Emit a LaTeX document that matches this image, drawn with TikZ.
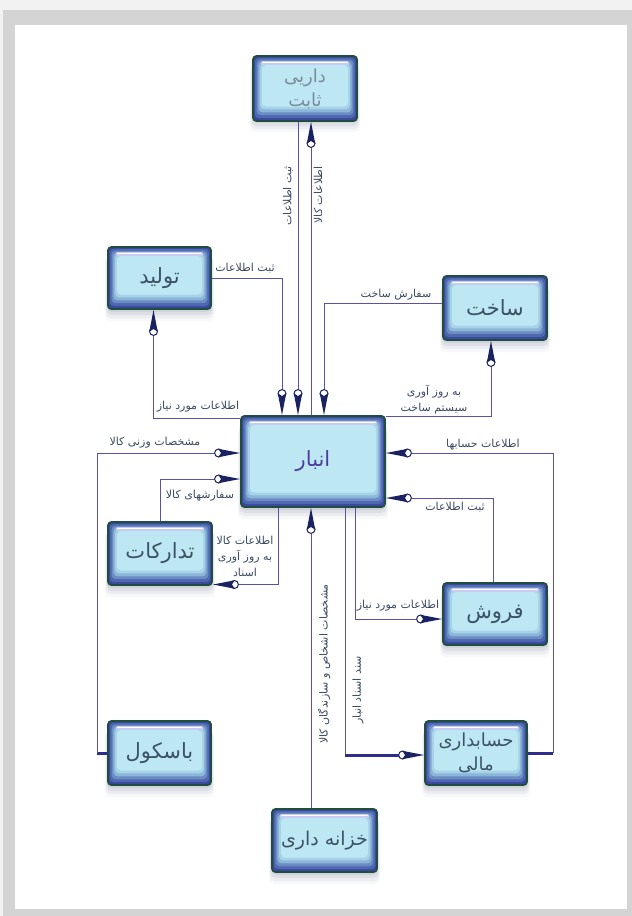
\documentclass[tikz,border=0pt]{standalone}
\usepackage{fontspec}
\TeXXeTstate=1
\newfontfamily\pfont[Script=Arabic]{DejaVu Sans}
\usetikzlibrary{arrows.meta}
\definecolor{bgout}{HTML}{F2F2F2}
\definecolor{bggray}{HTML}{D4D4D4}
\definecolor{boxgreen}{HTML}{1F4F3C}
\definecolor{bA}{HTML}{3A48A0}
\definecolor{bB}{HTML}{4F66B0}
\definecolor{bC}{HTML}{6B8CC3}
\definecolor{bD}{HTML}{8CB6D8}
\definecolor{bE}{HTML}{A6D3E8}
\definecolor{bF}{HTML}{BCE7F3}
\definecolor{hlA}{HTML}{C9CCF2}
\definecolor{linec}{HTML}{5A50AE}
\definecolor{thickc}{HTML}{2E2C8C}
\definecolor{arrc}{HTML}{1B2262}
\definecolor{lblc}{HTML}{3B4A63}
\definecolor{txtc}{HTML}{3C5266}
\definecolor{txtstore}{HTML}{4A3F9C}
\definecolor{txtfixed}{HTML}{7A8C9C}
\definecolor{shadowc}{HTML}{7E8AA2}
\newcommand\boxshadow[4]{%
  \foreach \kk/\op in {3/0.16,6/0.12,9/0.09,12/0.06}{%
    \fill[shadowc,opacity=\op,rounded corners=5pt] (#1-#3/2-\kk/4,#2-#4/2+\kk) rectangle (#1+#3/2+\kk/4,#2+#4/2+\kk);
  }%
}
\begin{document}
\begin{tikzpicture}[x=1pt,y=-1pt,
  conn/.style={draw=linec,line width=0.9pt},
  thk/.style={draw=thickc,line width=3pt},
  arr/.style={-{Circle[open,fill=white,color=arrc,length=9pt,width=9pt,line width=1pt,sep=-5pt]Stealth[color=arrc,length=22pt,width=8.5pt,inset=3pt,line width=0pt]}},
  lbl/.style={text=lblc,font=\pfont\fontsize{11}{16}\selectfont,inner sep=1pt},
  fancy/.style={rectangle,rounded corners=3.5pt,draw=boxgreen,line width=1.8pt,fill=bA,inner sep=0pt,
    text=txtc,font=\pfont\fontsize{21}{25}\selectfont,align=center,
    path picture={
      \foreach \ii/\cc in {1.8/bB,3.6/bC,5.4/bD,7.2/bE,9/bF}{
        \fill[\cc,rounded corners=4pt] ([xshift=\ii*1pt,yshift=-\ii*1pt]path picture bounding box.north west) rectangle ([xshift=-\ii*1pt,yshift=\ii*1.6pt]path picture bounding box.south east);
      }
      \draw[hlA,line width=4pt,line cap=round] ([xshift=10pt,yshift=-6.5pt]path picture bounding box.north west) -- ([xshift=-10pt,yshift=-6.5pt]path picture bounding box.north east);
      \draw[white,line width=1.8pt,line cap=round] ([xshift=10pt,yshift=-6.5pt]path picture bounding box.north west) -- ([xshift=-10pt,yshift=-6.5pt]path picture bounding box.north east);
    }}
]
\useasboundingbox (0,0) rectangle (632,916);
\fill[bgout] (0,0) rectangle (632,916);
\fill[bggray] (3,10) rectangle (632,916);
\fill[white] (15,25) rectangle (627,909);

% shadows
\boxshadow{305}{87.5}{104}{65}
\boxshadow{159.5}{278}{103}{62}
\boxshadow{495}{308}{104}{64}
\boxshadow{313}{461.5}{144}{91}
\boxshadow{160}{553.5}{104}{63}
\boxshadow{495}{614}{104}{62}
\boxshadow{476}{753}{102}{64}
\boxshadow{159.5}{753}{103}{64}
\boxshadow{324.5}{840.5}{105}{63}

% boxes
\node[fancy,text=txtfixed,minimum width=104pt,minimum height=65pt,font=\pfont\fontsize{18}{24}\selectfont] (fixed) at (305,88.5) {\beginR داریی\endR\\\beginR ثابت\endR};
\node[fancy,minimum width=103pt,minimum height=62pt] (prod) at (159.5,278) {\beginR تولید\endR};
\node[fancy,minimum width=104pt,minimum height=64pt] (make) at (495,308) {\beginR ساخت\endR};
\node[fancy,text=txtstore,minimum width=144pt,minimum height=91pt] (store) at (313,461.5) {\beginR انبار\endR};
\node[fancy,minimum width=104pt,minimum height=63pt] (supply) at (160,553.5) {\beginR تدارکات\endR};
\node[fancy,minimum width=104pt,minimum height=62pt] (sales) at (495,614) {\beginR فروش\endR};
\node[fancy,minimum width=102pt,minimum height=64pt,font=\pfont\fontsize{18}{24}\selectfont] (acct) at (476,753) {\beginR حسابداری\endR\\\beginR مالی\endR};
\node[fancy,minimum width=103pt,minimum height=64pt] (bascule) at (159.5,753) {\beginR باسکول\endR};
\node[fancy,minimum width=105pt,minimum height=63pt,font=\pfont\fontsize{19}{23}\selectfont] (treas) at (324.5,840.5) {\beginR خزانه داری\endR};

% connectors
\draw[conn,arr] (prod.east) -| ([xshift=-31pt]store.north);
\draw[conn,arr] ([xshift=-7pt]fixed.south) -- ([xshift=-15pt]store.north);
\draw[conn,arr] ([xshift=-2pt]store.north) -- ([xshift=6pt]fixed.south);
\draw[conn,arr] ([yshift=5pt]make.west) -| ([xshift=11pt]store.north);
\draw[conn,arr] ([yshift=-1pt]store.north east) -| ([xshift=-4pt]make.south);
\draw[conn,arr] ([yshift=-3pt]store.north west) -| ([xshift=-6pt]prod.south);
\coordinate (bk) at (97,753);
\draw[thk] (bascule.west) -- (bk);
\draw[conn,arr] (bk) |- ([yshift=8.5pt]store.west);
\draw[conn,arr] (supply.north) |- ([yshift=-17.5pt]store.west);
\draw[conn,arr] ([xshift=-35pt]store.south) |- ([yshift=-31pt]supply.east);
\coordinate (ak) at (553,753);
\draw[thk] (acct.east) -- (ak);
\draw[conn,arr] (ak) |- ([yshift=8.5pt]store.east);
\draw[conn,arr] ([xshift=-2pt]sales.north) |- ([yshift=-36.5pt]store.east);
\draw[conn,arr] ([xshift=42pt]store.south) |- ([yshift=-5pt]sales.west);
\coordinate (sk) at (345,755);
\draw[conn] ([xshift=32pt]store.south) -- (sk);
\draw[thk,arr] (sk) -- ([yshift=-2pt]acct.west);
\draw[conn,arr] ([xshift=-13.5pt]treas.north) -- ([xshift=-2pt]store.south);

% labels
\node[lbl,rotate=90] (t1) at (288,196) {\beginR ثبت اطلاعات\endR};
\node[lbl,rotate=90] (t2) at (318,195) {\beginR اطلاعات کالا\endR};
\node[lbl] (t3) at (245,268) {\beginR ثبت اطلاعات\endR};
\node[lbl] (t4) at (198,407) {\beginR اطلاعات مورد نیاز\endR};
\node[lbl] (t5) at (396,295) {\beginR سفارش ساخت\endR};
\node[lbl,align=center] (t6) at (434,400) {\beginR به روز آوری\endR\\\beginR سیستم ساخت\endR};
\node[lbl] (t7) at (155,443) {\beginR مشخصات وزنی کالا\endR};
\node[lbl] (t8) at (200,496) {\beginR سفارشهای کالا\endR};
\node[lbl,align=center] (t9) at (245,556) {\beginR اطلاعات کالا\endR\\\beginR به روز آوری\endR\\\beginR اسناد\endR};
\node[lbl] (t10) at (483,445) {\beginR اطلاعات حسابها\endR};
\node[lbl] (t11) at (455,507) {\beginR ثبت اطلاعات\endR};
\node[lbl] (t12) at (398,606) {\beginR اطلاعات مورد نیاز\endR};
\node[lbl,rotate=90] (t13) at (358,690) {\beginR سند اسناد انبار\endR};
\node[lbl,rotate=90] (t14) at (324,664) {\beginR مشخصات اشخاص و سازندگان کالا\endR};
\end{tikzpicture}
\end{document}
